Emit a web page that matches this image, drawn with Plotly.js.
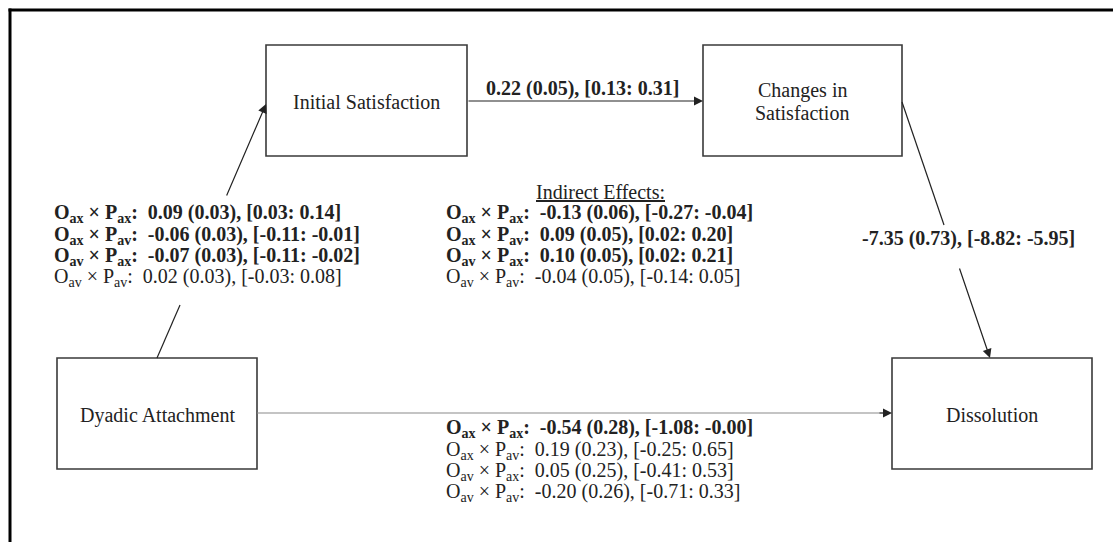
<!DOCTYPE html>
<html>
<head>
<meta charset="utf-8">
<script src="https://cdn.plot.ly/plotly-3.0.1.min.js"></script>
<style>html,body{margin:0;padding:0;background:#fff;} #chart{width:1113px;height:542px;}</style>
</head>
<body>
<div id="chart"></div>
<script>
// ---- Data ----
const nodeNames = ['Initial Satisfaction', 'Changes in', 'Satisfaction', 'Dyadic Attachment', 'Dissolution'];
const termLabels = ['O<sub>ax</sub> × P<sub>ax</sub>', 'O<sub>ax</sub> × P<sub>av</sub>', 'O<sub>av</sub> × P<sub>ax</sub>', 'O<sub>av</sub> × P<sub>av</sub>'];
const indirectTitle = 'Indirect Effects:';

// Dyadic attachment -> initial satisfaction
const aEst = [0.09, -0.06, -0.07, 0.02];
const aSE  = [0.03, 0.03, 0.03, 0.03];
const aLo  = [0.03, -0.11, -0.11, -0.03];
const aHi  = [0.14, -0.01, -0.02, 0.08];
const aSig = [true, true, true, false];

// Indirect effects
const indEst = [-0.13, 0.09, 0.10, -0.04];
const indSE  = [0.06, 0.05, 0.05, 0.05];
const indLo  = [-0.27, 0.02, 0.02, -0.14];
const indHi  = [-0.04, 0.20, 0.21, 0.05];
const indSig = [true, true, true, false];

// Direct effect: dyadic attachment -> dissolution
const cEst = [-0.54, 0.19, 0.05, -0.20];
const cSE  = [0.28, 0.23, 0.25, 0.26];
const cLo  = [-1.08, -0.25, -0.41, -0.71];
const cHi  = [-0, 0.65, 0.53, 0.33];
const cSig = [true, false, false, false];

// Single paths: [estimate, SE, lower, upper]
const satToChange = [0.22, 0.05, 0.13, 0.31];
const changeToDissolution = [-7.35, 0.73, -8.82, -5.95];

// ---- Helpers ----
function fmt(v) { return (Object.is(v, -0) ? '-' : '') + v.toFixed(2); }
function effect(e, s, l, h) { return fmt(e) + ' (' + fmt(s) + '), [' + fmt(l) + ': ' + fmt(h) + ']'; }
function termLine(i, est, se, lo, hi, sig) {
  const t = termLabels[i] + ':\u00a0\u00a0' + effect(est[i], se[i], lo[i], hi[i]);
  return sig[i] ? '<b>' + t + '</b>' : t;
}

const TXT = '#222';
const FONT = {family: 'Liberation Serif, Times New Roman, serif', size: 20, color: TXT};
const BOX = '#3a3a3a';

const shapes = [];
const annotations = [];

// outer frame (top and left)
shapes.push({type: 'line', x0: 8.5, x1: 1113, y0: 10, y1: 10, line: {color: '#000', width: 3}});
shapes.push({type: 'line', x0: 10, x1: 10, y0: 8.5, y1: 542, line: {color: '#000', width: 3}});

// boxes
const boxes = [[266, 467, 45, 156], [703, 902, 45, 156], [57, 257, 358, 469], [892, 1092, 358, 469]];
boxes.forEach(b => shapes.push({type: 'rect', x0: b[0], x1: b[1], y0: b[2], y1: b[3], line: {color: BOX, width: 1.6}, fillcolor: 'rgba(0,0,0,0)'}));

// node labels
function txt(text, x, y, anchor, extra) {
  annotations.push(Object.assign({text: text, x: x, y: y, xref: 'x', yref: 'y', showarrow: false,
    xanchor: anchor || 'center', yanchor: 'middle', font: FONT, borderpad: 0}, extra || {}));
}
txt(nodeNames[0], 366, 102);
txt(nodeNames[1], 802, 90);
txt(nodeNames[2], 802, 113);
txt(nodeNames[3], 157, 415);
txt(nodeNames[4], 992, 415);

// arrows
function arrow(x0, y0, x1, y1, color) {
  annotations.push({x: x1, y: y1, ax: x0, ay: y0, xref: 'x', yref: 'y', axref: 'x', ayref: 'y',
    text: '', showarrow: true, arrowhead: 2, arrowsize: 1.5, arrowwidth: 1.2, arrowcolor: color || '#222', standoff: 0, startstandoff: 0});
}
function seg(x0, y0, x1, y1, color) {
  shapes.push({type: 'line', x0: x0, y0: y0, x1: x1, y1: y1, line: {color: color || '#222', width: 1.2}});
}
// Initial -> Changes
arrow(467, 101, 703, 101);
// Dyadic -> Initial (broken by text)
seg(157, 358, 180, 305);
arrow(226, 197, 266, 104);
// Changes -> Dissolution (broken by text)
seg(902, 102, 944, 225);
arrow(959, 267, 990, 358);
// Dyadic -> Dissolution
seg(257, 413, 884, 413, '#8a8a8a');
arrow(878, 413, 892, 413);

// path labels
txt('<b>' + effect.apply(null, satToChange) + '</b>', 582, 88);
txt('<b>' + effect.apply(null, changeToDissolution) + '</b>', 968, 238);

// left block
const leftY = [213, 235, 256, 277];
leftY.forEach((y, i) => txt(termLine(i, aEst, aSE, aLo, aHi, aSig), 53, y, 'left'));

// indirect block
txt('<u>' + indirectTitle + '</u>', 600, 192);
const midY = [213, 235, 256, 277];
midY.forEach((y, i) => txt(termLine(i, indEst, indSE, indLo, indHi, indSig), 445, y, 'left'));

// direct block
const botY = [428, 450, 471, 492];
botY.forEach((y, i) => txt(termLine(i, cEst, cSE, cLo, cHi, cSig), 445, y, 'left'));

const layout = {
  width: 1113, height: 542,
  margin: {l: 0, r: 0, t: 0, b: 0, pad: 0},
  paper_bgcolor: '#fff', plot_bgcolor: '#fff',
  showlegend: false,
  xaxis: {range: [0, 1113], autorange: false, visible: false, fixedrange: true},
  yaxis: {range: [542, 0], autorange: false, visible: false, fixedrange: true},
  shapes: shapes,
  annotations: annotations
};

Plotly.newPlot('chart', [], layout, {staticPlot: true, displayModeBar: false});
</script>
</body>
</html>
